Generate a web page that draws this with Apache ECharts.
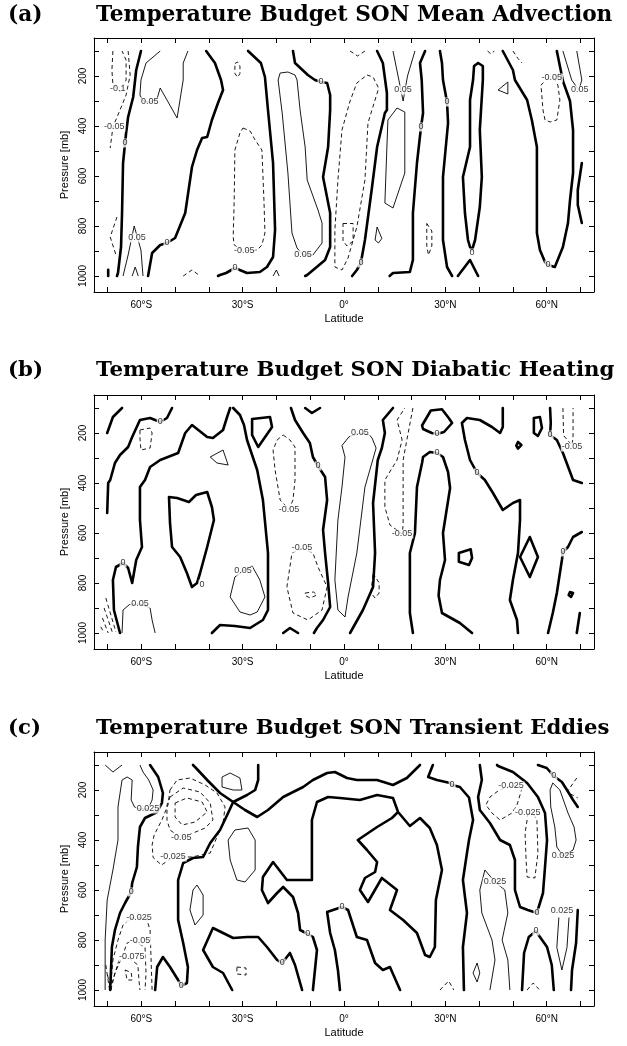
<!DOCTYPE html>
<html>
<head>
<meta charset="utf-8">
<script src="https://cdn.jsdelivr.net/npm/echarts@6/dist/echarts.min.js"></script>
<style>
html,body{margin:0;padding:0;background:#fff;}
#chart{width:627px;height:1046px;}
</style>
</head>
<body>
<div id="chart"></div>
<script>
// Zonal-mean temperature budget terms, SON. Contours are [latitude, pressure(mb)] paths.
// Zero contour = thick, positive = thin solid, negative = thin dashed.

// ---------- axes ----------
const latTicks = [-60, -30, 0, 30, 60];
const latTickLabels = ['60°S', '30°S', '0°', '30°N', '60°N'];
const latMinorTicks = [-70, -60, -50, -40, -30, -20, -10, 0, 10, 20, 30, 40, 50, 60, 70];
const presTicks = [200, 400, 600, 800, 1000];
const presMinorTicks = [100, 200, 300, 400, 500, 600, 700, 800, 900, 1000];

const panelTags = ['(a)', '(b)', '(c)'];
const panelTitles = [
  'Temperature Budget SON Mean Advection',
  'Temperature Budget SON Diabatic Heating',
  'Temperature Budget SON Transient Eddies'
];

// ---------- (a) mean advection, interval 0.05 ----------
const advZero = [
  [[-60.1,100],[-61.5,176],[-62.4,284],[-63.9,364],[-64.5,428],[-65.4,548],[-65.7,748],[-66.0,884],[-66.9,988],[-67.2,1000]],
  [[-69.8,975],[-69.8,1000]],
  [[-58.0,1000],[-56.8,908],[-54.4,876],[-52.4,868],[-50.0,848],[-47.0,748],[-45.0,564],[-43.5,496],[-42.0,448],[-40.5,444],[-39.1,376],[-37.3,308],[-35.8,256],[-36.4,216],[-38.2,148],[-40.8,100]],
  [[-28.4,100],[-24.6,148],[-23.4,204],[-22.5,336],[-21.0,548],[-20.4,816],[-21.0,924],[-22.8,964],[-24.9,984],[-28.7,988],[-32.3,968],[-34.9,988],[-36.7,996],[-37.3,1000]],
  [[-15.1,100],[-14.5,148],[-10.7,196],[-8.6,216],[-6.8,224],[-5.0,228],[-4.1,276],[-4.1,336],[-4.7,484],[-6.2,604],[-4.1,748],[-4.1,884],[-5.6,936],[-10.9,996],[-11.5,1000]],
  [[9.8,100],[11.5,148],[12.7,268],[12.7,336],[12.1,348],[9.8,484],[8.3,644],[6.2,856],[5.3,924],[5.0,948],[3.8,976],[2.4,1000]],
  [[24.0,100],[22.5,148],[23.0,216],[23.4,348],[22.8,404],[21.6,548],[20.4,748],[20.4,936],[19.5,984],[14.5,988],[13.5,1000]],
  [[28.4,100],[29.0,148],[29.3,216],[30.5,304],[30.8,388],[29.3,604],[29.3,856],[30.5,964],[32.0,1000]],
  [[39.7,148],[41.1,160],[41.1,216],[40.2,416],[40.8,604],[40.2,724],[38.8,856],[37.9,896],[37.3,884],[36.7,856],[35.8,748],[35.2,604],[37.3,484],[37.3,296],[38.2,216],[38.5,160],[39.7,148]],
  [[33.7,1000],[37.3,936],[39.7,1000]],
  [[47.0,100],[50.0,176],[50.6,216],[54.2,296],[55.6,376],[57.1,484],[57.1,828],[58.0,896],[59.5,944],[60.4,956],[62.4,964],[64.8,884],[66.3,788],[66.9,696],[67.8,588],[67.8,416],[66.9,300],[64.8,220],[63.0,100]],
  [[70.4,548],[69.2,656],[69.2,716],[70.4,788]]
];
const advPos = [
  [[-54.4,100],[-58.6,148],[-60.1,216],[-60.4,276],[-59.5,300],[-57.5,306],[-55.3,290],[-54.4,248],[-49.4,368],[-47.6,216],[-47.6,148],[-46.2,100]],
  [[-65.4,1000],[-63.9,916],[-62.1,800],[-60.1,896],[-59.5,1000]],
  [[-62.7,1000],[-61.8,964],[-60.9,1000]],
  [[-18.9,188],[-16.6,184],[-14.5,196],[-13.9,216],[-13.0,336],[-11.5,484],[-10.9,616],[-7.7,736],[-6.5,788],[-6.5,868],[-9.2,916],[-12.1,916],[-13.9,888],[-15.4,828],[-16.6,588],[-18.3,348],[-19.5,216],[-18.9,188]],
  [[-21.0,1000],[-20.0,976],[-19.2,1000]],
  [[14.5,100],[16.0,200],[17.5,300],[18.8,200],[21.0,100]],
  [[15.7,328],[18.0,344],[18.0,588],[14.5,728],[12.1,708],[12.7,484],[13.0,376],[15.7,328]],
  [[9.8,804],[11.2,850],[10.2,868],[9.2,856],[9.8,804]],
  [[45.6,256],[48.5,224],[48.5,272],[45.6,256]],
  [[64.8,100],[67.4,216],[69.5,256],[70.4,216],[68.9,100]]
];
const advNeg = [
  [[-68.4,100],[-68.7,176],[-68.4,236],[-66.3,264],[-64.5,216],[-64.5,136],[-65.7,100]],
  [[-63.9,100],[-63.3,196],[-64.5,276],[-66.3,336],[-68.4,404],[-69.2,488]],
  [[-67.2,764],[-69.2,844],[-67.5,916]],
  [[-32.3,150],[-31.5,144],[-30.8,160],[-30.8,190],[-31.5,205],[-32.3,190],[-32.3,150]],
  [[-29.9,408],[-27.8,420],[-26.3,456],[-24.3,496],[-23.7,696],[-23.4,828],[-24.3,876],[-25.7,896],[-29.9,900],[-32.5,876],[-32.8,844],[-32.5,696],[-32.3,496],[-30.8,428],[-29.9,408]],
  [[-47.6,1000],[-45.0,976],[-42.6,1000]],
  [[6.8,196],[8.6,204],[10.1,244],[10.1,256],[7.1,388],[6.2,616],[3.8,804],[1.2,928],[-0.6,976],[-2.7,964],[-2.7,816],[-1.8,616],[-0.6,416],[1.8,300],[3.8,228],[6.8,196]],
  [[-0.3,790],[2.7,790],[2.7,860],[0.9,880],[-0.3,860],[-0.3,790]],
  [[1.8,100],[4.0,120],[6.2,100]],
  [[24.5,790],[26.0,820],[26.0,880],[25.0,916],[24.5,880],[24.5,790]],
  [[62.1,208],[63.3,236],[63.9,296],[63.0,376],[61.0,384],[59.5,376],[58.9,336],[58.3,236],[60.5,208],[62.1,208]],
  [[50.0,100],[51.5,130],[52.7,148]],
  [[42.5,100],[43.5,112],[44.5,100]]
];
const advLabels = [
  [-67.0,250,'-0.1'], [-68.0,404,'-0.05'], [-57.5,304,'0.05'], [-64.8,468,'0'], [-61.3,848,'0.05'],
  [-52.4,868,'0'], [-29.5,900,'-0.05'], [-32.3,968,'0'], [-12.1,916,'0.05'], [-6.8,224,'0'],
  [5.0,948,'0'], [17.5,256,'0.05'], [22.8,404,'0'], [30.5,304,'0'], [37.9,908,'0'],
  [60.4,956,'0'], [61.5,208,'-0.05'], [69.8,256,'0.05']
];

// ---------- (b) diabatic heating, interval 0.05 ----------
const diabZero = [
  [[-65.7,100],[-68.4,136],[-70.1,200]],
  [[-50.9,100],[-52.4,140],[-54.4,156],[-57.4,140],[-60.4,148],[-62.7,216],[-63.9,256],[-66.3,288],[-67.8,320],[-69.2,388],[-69.8,400],[-70.1,520]],
  [[-33.7,100],[-34.6,136],[-35.8,188],[-38.8,220],[-40.5,216],[-45.0,168],[-47.0,200],[-49.1,280],[-54.4,308],[-57.4,336],[-58.9,388],[-60.4,416],[-60.4,548],[-59.8,656],[-61.5,708],[-62.7,800],[-63.9,740],[-65.4,720],[-67.5,736],[-68.4,788],[-68.1,908],[-66.3,1000]],
  [[-51.8,456],[-49.4,460],[-45.9,476],[-43.8,448],[-40.5,436],[-39.1,496],[-38.5,548],[-40.5,656],[-42.6,760],[-43.5,800],[-45.0,816],[-46.5,760],[-48.5,696],[-50.9,656],[-51.5,560],[-51.8,456]],
  [[-27.2,144],[-21.9,136],[-21.3,176],[-25.4,256],[-27.2,208],[-27.2,144]],
  [[-32.8,100],[-30.8,128],[-29.6,168],[-28.7,228],[-27.2,288],[-25.7,348],[-24.0,468],[-22.5,680],[-22.5,908],[-24.0,948],[-27.8,980],[-32.3,972],[-36.7,968],[-39.1,1000]],
  [[-11.5,100],[-9.5,120],[-7.1,100]],
  [[-15.7,100],[-14.5,148],[-12.1,200],[-10.1,240],[-9.2,296],[-7.7,332],[-5.6,376],[-5.0,468],[-6.2,588],[-5.6,680],[-4.7,800],[-4.1,896],[-6.2,948],[-8.0,980],[-8.9,1000]],
  [[-18.0,1000],[-16.0,980],[-13.6,1000]],
  [[14.5,100],[11.5,148],[12.1,200],[11.2,260],[10.0,308],[8.6,480],[9.2,680],[8.6,816],[5.6,908],[1.8,1000]],
  [[20.4,1000],[19.5,920],[19.5,680],[21.0,600],[21.6,416],[23.1,320],[23.4,296],[25.4,276],[27.5,280],[29.3,296],[30.8,356],[31.4,420],[29.3,600],[29.9,708],[28.4,788],[28.0,850],[29.0,920],[34.3,960],[37.9,1000]],
  [[23.1,170],[25.7,110],[29.0,105],[31.0,140],[32.0,160],[29.6,196],[27.5,204],[26.0,200],[23.4,184],[23.1,170]],
  [[47.0,100],[47.0,176],[46.2,200],[43.8,176],[40.2,148],[36.4,140],[34.9,160],[35.8,228],[37.3,308],[39.4,360],[41.7,388],[44.1,440],[47.0,508],[50.0,480],[52.1,468],[52.1,548],[51.5,680],[50.0,788],[49.1,868],[51.2,948],[51.5,1000]],
  [[34.0,680],[37.5,665],[37.9,700],[37.0,728],[34.0,715],[34.0,680]],
  [[51.5,236],[52.5,248],[51.5,262],[51.0,250],[51.5,236]],
  [[55.0,616],[57.4,696],[55.0,776],[52.1,696],[55.0,616]],
  [[56.2,140],[58.0,136],[58.6,180],[57.4,212],[56.2,200],[56.2,140]],
  [[61.0,100],[61.2,160],[61.0,208],[63.0,228],[64.8,280],[67.8,388],[70.4,400]],
  [[70.4,596],[67.8,616],[66.3,656],[64.8,676],[64.5,708],[63.0,840],[61.8,920],[60.4,1000]],
  [[69.8,920],[68.9,1000]],
  [[66.9,836],[67.8,840],[67.2,856],[66.5,848],[66.9,836]]
];
const diabPos = [
  [[-39.6,296],[-35.8,268],[-34.3,328],[-37.6,320],[-39.6,296]],
  [[-29.9,752],[-32.3,776],[-33.7,856],[-30.8,916],[-27.8,928],[-25.7,916],[-23.4,856],[-24.9,788],[-27.2,732],[-29.9,752]],
  [[4.7,200],[1.5,215],[-0.6,250],[0.3,296],[-0.6,416],[-1.8,548],[-2.7,788],[-1.8,908],[0.3,936],[1.2,856],[3.8,680],[6.2,416],[8.5,308],[9.5,260],[8.3,220],[7.5,208],[4.7,200]],
  [[-65.7,1000],[-65.4,908],[-63.5,886],[-60.4,884],[-57.4,900],[-56.8,948],[-55.9,1000]]
];
const diabNeg = [
  [[-60.4,188],[-57.4,180],[-56.8,200],[-57.4,260],[-60.1,268],[-60.4,220],[-60.4,188]],
  [[-18.0,208],[-16.0,228],[-14.5,256],[-14.5,388],[-15.1,468],[-16.3,505],[-18.9,468],[-20.4,348],[-21.0,268],[-19.8,228],[-18.0,208]],
  [[-12.4,660],[-15.4,680],[-16.9,816],[-15.1,920],[-10.7,948],[-6.5,908],[-5.0,816],[-7.7,736],[-9.2,680],[-12.4,660]],
  [[-11.5,840],[-9.0,836],[-8.0,848],[-10.0,860],[-11.5,850],[-11.5,840]],
  [[20.4,100],[18.6,228],[17.5,308],[17.5,468],[17.5,568],[17.2,604],[13.6,568],[12.1,496],[12.1,388],[15.7,308],[17.2,228],[15.7,148],[18.0,100]],
  [[8.6,760],[10.4,800],[10.4,840],[9.2,860],[8.0,840],[8.6,760]],
  [[64.8,100],[65.0,210],[67.5,250],[67.8,210],[67.8,100]],
  [[-70.5,860],[-67.5,996]],
  [[-71.0,900],[-68.5,1000]],
  [[-71.5,940],[-69.8,1000]],
  [[-72.0,975],[-71.0,1000]]
];
const diabLabels = [
  [-54.4,156,'0'], [-65.4,720,'0'], [-42.0,805,'0'], [-29.9,752,'0.05'], [-60.4,884,'0.05'],
  [-7.7,332,'0'], [-16.3,505,'-0.05'], [-12.4,660,'-0.05'], [4.7,200,'0.05'], [17.2,604,'-0.05'],
  [27.5,280,'0'], [27.5,204,'0'], [39.4,360,'0'], [61.0,208,'0'], [67.5,256,'-0.05'], [64.8,676,'0']
];

// ---------- (c) transient eddies, interval 0.025 ----------
const eddyZero = [
  [[-57.4,100],[-55.0,148],[-53.6,212],[-53.9,252],[-55.3,288],[-58.9,312],[-60.4,348],[-61.0,428],[-61.3,508],[-62.7,572],[-63.0,608],[-64.8,652],[-66.3,692],[-67.8,760],[-68.7,828],[-69.2,1000]],
  [[-55.9,1000],[-55.3,908],[-53.6,868],[-51.5,908],[-49.1,960],[-48.2,984],[-46.5,972],[-46.2,908],[-47.6,812],[-49.1,720],[-49.1,560],[-47.6,492],[-44.7,472],[-41.7,468],[-39.6,412],[-36.7,360],[-34.3,292],[-32.8,248],[-36.7,212],[-40.5,160],[-44.1,108],[-44.7,100]],
  [[-25.4,100],[-25.4,160],[-26.3,200],[-28.7,220],[-32.8,248],[-29.3,280],[-25.7,308],[-22.5,280],[-18.0,228],[-12.1,188],[-9.2,160],[-5.0,132],[-2.7,128],[0.9,152],[3.8,160],[9.8,160],[14.5,180],[18.6,152],[21.9,108],[22.5,100]],
  [[-33.1,1000],[-35.8,932],[-38.8,908],[-41.7,840],[-38.8,752],[-32.8,792],[-28.7,788],[-25.4,788],[-22.8,828],[-19.8,880],[-18.3,892],[-16.0,852],[-14.5,900],[-12.4,1000]],
  [[-9.2,1000],[-8.0,840],[-9.2,788],[-10.7,776],[-13.0,760],[-13.6,692],[-15.1,628],[-18.0,588],[-19.8,612],[-22.5,652],[-24.3,600],[-24.0,548],[-21.0,488],[-16.9,560],[-9.5,560],[-9.5,452],[-9.5,320],[-8.0,248],[-4.7,228],[-1.2,232],[4.7,240],[9.8,220],[14.5,232],[16.0,288],[19.5,344],[22.5,312],[25.4,352],[27.5,420],[29.0,520],[27.2,640],[26.9,828],[25.4,868],[24.0,860],[21.6,772],[17.5,720],[13.6,680],[15.7,600],[11.2,552],[7.1,648],[4.7,600],[6.2,552],[9.2,528],[9.8,488],[6.8,440],[4.1,400],[9.8,348],[14.2,312],[16.0,288]],
  [[-1.2,1000],[-1.8,920],[-2.7,840],[-4.1,772],[-5.0,688],[-0.6,668],[1.2,680],[3.8,788],[6.8,800],[9.2,892],[11.5,920],[13.6,908],[16.6,1000]],
  [[26.3,100],[24.9,148],[27.5,160],[31.4,172],[32.0,180],[34.3,188],[37.0,230],[38.2,320],[37.0,400],[36.4,452],[35.2,560],[36.4,692],[35.2,828],[35.5,1000]],
  [[40.2,100],[40.8,160],[39.7,228],[40.2,280],[43.2,332],[46.2,400],[49.1,420],[50.6,480],[50.6,600],[52.1,668],[54.4,680],[57.1,692],[58.9,612],[59.5,508],[60.1,400],[59.5,292],[57.4,228],[54.2,172],[50.0,128],[45.6,104],[45.3,100]],
  [[52.7,1000],[53.3,852],[54.7,788],[56.8,764],[58.0,788],[60.1,828],[61.5,900],[62.1,1000]],
  [[57.4,100],[60.0,112],[62.1,144],[64.5,168],[66.0,200],[67.8,240],[69.2,268]],
  [[69.2,680],[68.7,812],[67.5,920],[67.2,1000]]
];
const eddyPos = [
  [[-70.7,100],[-68.4,128],[-65.7,100]],
  [[-70.7,1000],[-70.7,800],[-70.1,640],[-68.4,520],[-66.9,400],[-66.9,268],[-65.7,160],[-64.2,148],[-62.7,160],[-63.0,240],[-62.0,268],[-60.5,276],[-58.0,276],[-56.8,240],[-56.5,200],[-57.8,160],[-59.5,128],[-60.4,100]],
  [[-36.1,148],[-33.7,132],[-30.8,152],[-30.2,200],[-32.8,200],[-36.1,188],[-36.1,148]],
  [[-43.5,580],[-41.7,620],[-41.7,700],[-44.1,740],[-45.6,680],[-44.7,600],[-43.5,580]],
  [[-32.3,360],[-28.4,352],[-26.3,400],[-26.3,520],[-29.3,568],[-31.7,560],[-33.7,480],[-34.3,400],[-32.3,360]],
  [[43.2,1000],[44.7,880],[43.8,800],[40.8,692],[40.2,600],[41.7,520],[44.7,568],[47.6,600],[48.5,692],[46.8,800],[48.5,880],[49.1,1000]],
  [[39.4,892],[40.2,932],[39.4,968],[38.2,932],[39.4,892]],
  [[61.0,200],[61.8,172],[63.9,200],[66.3,292],[68.1,348],[68.7,400],[67.8,440],[64.8,464],[63.0,428],[62.4,348],[61.2,268],[61.0,200]],
  [[63.6,710],[63.0,830],[64.5,920],[66.0,830],[66.6,710]]
];
const eddyNeg = [
  [[-69.2,1000],[-68.4,880],[-66.9,800],[-65.4,740],[-63.0,712],[-58.5,712],[-57.4,760],[-57.1,880],[-56.8,1000]],
  [[-69.0,1000],[-67.8,932],[-65.7,868],[-64.2,812],[-62.5,804],[-58.9,828],[-58.6,932],[-58.9,1000]],
  [[-69.5,1000],[-68.4,960],[-66.6,880],[-64.0,868],[-61.0,900],[-60.7,960],[-60.4,1000]],
  [[-64.8,920],[-63.0,930],[-62.7,960],[-64.2,960],[-64.8,920]],
  [[-70.5,900],[-69.4,1000]],
  [[-70.0,940],[-69.0,1000]],
  [[-51.5,200],[-49.4,160],[-45.6,152],[-41.1,180],[-37.6,212],[-35.2,268],[-35.8,332],[-37.6,388],[-39.6,452],[-45.0,468],[-50.6,468],[-54.0,500],[-56.5,470],[-56.8,420],[-56.2,380],[-53.9,320],[-52.1,260],[-51.5,200]],
  [[-51.5,228],[-47.6,192],[-42.6,208],[-39.6,252],[-38.8,320],[-41.1,352],[-48.2,392],[-51.5,360],[-52.4,320],[-52.4,260],[-51.5,228]],
  [[-50.0,252],[-46.5,232],[-42.0,248],[-40.5,288],[-44.1,328],[-47.9,340],[-50.0,308],[-50.0,252]],
  [[-31.7,908],[-29.0,912],[-29.0,940],[-31.7,936],[-31.7,908]],
  [[28.4,1000],[31.0,964],[32.5,1000]],
  [[49.4,184],[46.0,200],[43.2,228],[42.0,260],[43.8,292],[46.2,320],[49.7,292],[51.2,260],[52.1,220],[52.7,192],[49.4,184]],
  [[54.4,292],[54.2,320],[53.6,372],[53.9,480],[54.2,548],[56.5,552],[57.4,452],[57.1,320],[56.2,300],[54.4,292]],
  [[68.9,152],[66.0,208],[69.2,232]],
  [[54.2,1000],[56.0,972],[57.9,1000]]
];
const eddyLabels = [
  [-58.0,276,'0.025'], [-63.0,608,'0'], [-60.7,712,'-0.025'], [-60.4,804,'-0.05'], [-62.8,868,'-0.075'],
  [-48.2,984,'0'], [-48.2,392,'-0.05'], [-50.6,468,'-0.025'], [-18.3,892,'0'], [-10.7,776,'0'],
  [-0.6,668,'0'], [32.0,180,'0'], [49.4,184,'-0.025'], [54.4,292,'-0.025'], [44.7,568,'0.025'],
  [57.1,692,'0'], [56.8,764,'0'], [62.1,144,'0'], [64.8,464,'0.025'], [64.5,684,'0.025']
];

// ---------- layout ----------
const gridTops = [38, 395, 752];
const titleTops = [4, 360, 718];
const titleSizes = [21.7, 21.3, 21.2];
const panels = [
  { zero: advZero, pos: advPos, neg: advNeg, labels: advLabels },
  { zero: diabZero, pos: diabPos, neg: diabNeg, labels: diabLabels },
  { zero: eddyZero, pos: eddyPos, neg: eddyNeg, labels: eddyLabels }
];

const axisFont = 'Liberation Sans';
const black = '#000';
const grids = [], xAxes = [], yAxes = [], series = [], graphics = [];

panels.forEach((pn, i) => {
  grids.push({ left: 94, top: gridTops[i], width: 500, height: 254, show: false });

  const tickStyle = { show: true, inside: true, length: 5, customValues: latMinorTicks, lineStyle: { color: black, width: 1 } };
  xAxes.push({
    gridIndex: i, type: 'value', min: -74, max: 74, position: 'bottom',
    axisLine: { show: true, onZero: false, lineStyle: { color: black, width: 1 } },
    axisTick: tickStyle,
    axisLabel: {
      show: true, customValues: latTicks, margin: 8, fontSize: 10, color: black, fontFamily: axisFont,
      formatter: v => latTickLabels[latTicks.indexOf(Math.round(v))]
    },
    splitLine: { show: false },
    name: 'Latitude', nameLocation: 'middle', nameGap: 21,
    nameTextStyle: { fontSize: 11, color: black, fontFamily: axisFont }
  });
  xAxes.push({
    gridIndex: i, type: 'value', min: -74, max: 74, position: 'top',
    axisLine: { show: true, onZero: false, lineStyle: { color: black, width: 1 } },
    axisTick: tickStyle, axisLabel: { show: false }, splitLine: { show: false }
  });

  const yTick = { show: true, inside: true, length: 5, customValues: presMinorTicks, lineStyle: { color: black, width: 1 } };
  yAxes.push({
    gridIndex: i, type: 'value', inverse: true, min: 48, max: 1064, position: 'left',
    axisLine: { show: true, onZero: false, lineStyle: { color: black, width: 1 } },
    axisTick: yTick,
    axisLabel: {
      show: true, customValues: presTicks, rotate: 90, margin: 6, fontSize: 10, color: black, fontFamily: axisFont,
      formatter: v => String(Math.round(v))
    },
    splitLine: { show: false },
    name: 'Pressure [mb]', nameLocation: 'middle', nameGap: 18, nameRotate: 90,
    nameTextStyle: { fontSize: 11, color: black, fontFamily: axisFont }
  });
  yAxes.push({
    gridIndex: i, type: 'value', inverse: true, min: 48, max: 1064, position: 'right',
    axisLine: { show: true, onZero: false, lineStyle: { color: black, width: 1 } },
    axisTick: yTick, axisLabel: { show: false }, splitLine: { show: false }
  });

  const addLines = (paths, style) => {
    paths.forEach(path => {
      series.push({
        type: 'line', xAxisIndex: 2 * i, yAxisIndex: 2 * i,
        data: path, showSymbol: false, symbol: 'none', silent: true,
        lineStyle: style, z: 2
      });
    });
  };
  addLines(pn.zero, { color: black, width: 2.6, type: 'solid', join: 'round', cap: 'round' });
  addLines(pn.pos, { color: black, width: 0.9, type: 'solid' });
  addLines(pn.neg, { color: black, width: 0.9, type: [4, 3] });

  series.push({
    type: 'scatter', xAxisIndex: 2 * i, yAxisIndex: 2 * i, silent: true,
    symbolSize: 1, itemStyle: { color: 'rgba(0,0,0,0)' }, z: 5,
    data: pn.labels.map(l => ({ value: [l[0], l[1]], name: l[2] })),
    label: {
      show: true, position: 'inside', formatter: p => p.name,
      fontSize: 9, color: black, fontFamily: axisFont,
      backgroundColor: '#fff', padding: [0, 1]
    }
  });

  const titleFont = 'bold ' + titleSizes[i] + 'px "DejaVu Serif"';
  graphics.push({
    type: 'text', left: 8, top: titleTops[i],
    style: { text: panelTags[i], font: titleFont, fill: black }
  });
  graphics.push({
    type: 'text', left: 96, top: titleTops[i],
    style: { text: panelTitles[i], font: titleFont, fill: black }
  });
});

const chart = echarts.init(document.getElementById('chart'), null, { renderer: 'canvas' });
chart.setOption({
  animation: false,
  backgroundColor: '#fff',
  grid: grids,
  xAxis: xAxes,
  yAxis: yAxes,
  series: series,
  graphic: graphics
});
</script>
</body>
</html>
